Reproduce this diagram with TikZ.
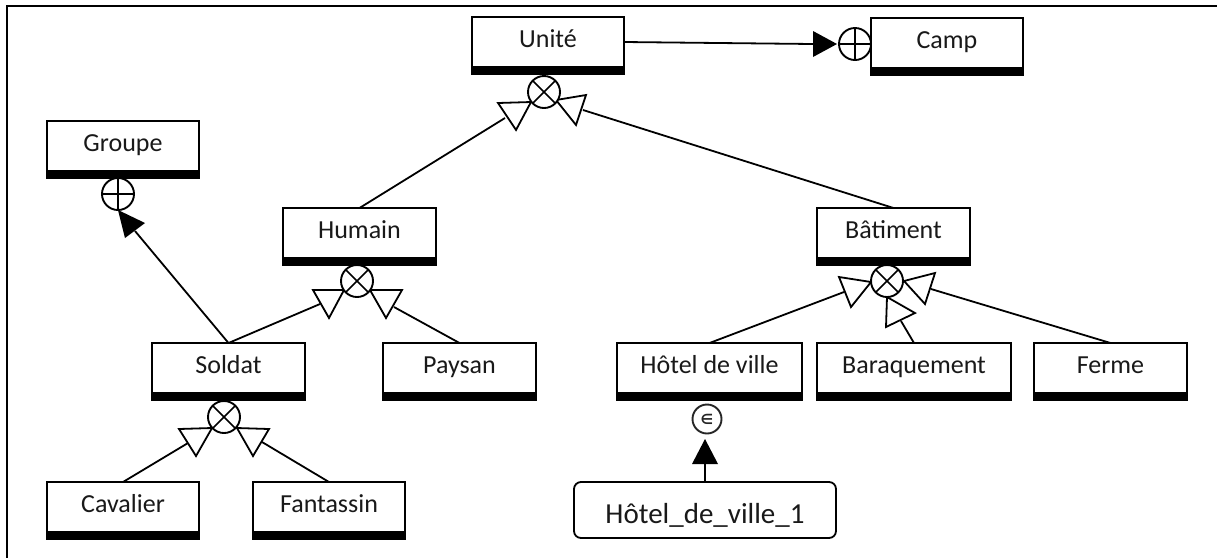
\documentclass[tikz,border=0pt]{standalone}
\usepackage{fontspec}
\setmainfont{Carlito}
\newfontfamily\symbfont{DejaVu Sans}
\usetikzlibrary{calc}
\tikzset{
  x=1pt,y=-1pt,
  entity/.style={draw=black,line width=2pt,fill=white,inner sep=0pt,outer sep=0pt,
    minimum height=50pt,text height=19pt,text depth=8pt,text=black!90,font=\fontsize{26}{30}\selectfont},
  instance/.style={draw=black,line width=1.8pt,fill=white,rounded corners=7pt,inner sep=0pt,outer sep=0pt,
    minimum width=262pt,minimum height=56pt,text height=30pt,text depth=4pt,text=black!90,font=\fontsize{29}{32}\selectfont},
  junction/.style={circle,draw=black,line width=1.9pt,fill=white,minimum size=32pt,inner sep=0pt,outer sep=0pt},
  xorj/.style={junction,path picture={
    \draw[line width=1.7pt] (path picture bounding box.north west) -- (path picture bounding box.south east);
    \draw[line width=1.7pt] (path picture bounding box.north east) -- (path picture bounding box.south west);}},
  plusj/.style={junction,path picture={
    \draw[line width=1.7pt] (path picture bounding box.north) -- (path picture bounding box.south);
    \draw[line width=1.7pt] (path picture bounding box.west) -- (path picture bounding box.east);}},
  elemj/.style={circle,draw=black!85,line width=1.9pt,fill=white,minimum size=29pt,inner sep=0pt,outer sep=0pt,
    text=black!85,font=\symbfont\bfseries\fontsize{14}{14}\selectfont},
  link/.style={draw=black,line width=1.8pt},
  opentri/.style={draw=black,line width=1.8pt,fill=white,line join=miter},
  solidtri/.style={fill=black,draw=none},
  frameline/.style={draw=black,line width=2pt},
}
\begin{document}
\begin{tikzpicture}
\useasboundingbox (0,0) rectangle (1217,558);
\fill[white] (0,0) rectangle (1217,558);
\draw[frameline] (1217,6) -- (7,6) -- (7,558);

% entity boxes
\node[entity,minimum width=152pt] (unite) at (548,42) {Unité};
\node[entity,minimum width=152pt] (camp) at (947,43) {Camp};
\node[entity,minimum width=152pt] (groupe) at (123,146) {Groupe};
\node[entity,minimum width=153pt] (humain) at (359.5,233) {Humain};
\node[entity,minimum width=153pt] (batiment) at (893.5,233) {Bâtiment};
\node[entity,minimum width=153pt] (soldat) at (228.5,368) {Soldat};
\node[entity,minimum width=153pt] (paysan) at (459.5,368) {Paysan};
\node[entity,minimum width=185pt] (hotel) at (709.5,368) {Hôtel de ville};
\node[entity,minimum width=194pt] (baraquement) at (914,368) {Baraquement};
\node[entity,minimum width=153pt] (ferme) at (1110.5,368) {Ferme};
\node[entity,minimum width=152pt] (cavalier) at (123,507) {Cavalier};
\node[entity,minimum width=152pt] (fantassin) at (329,507) {Fantassin};
\node[instance] (hotelun) at (705,510) {Hôtel\_de\_ville\_1};

\foreach \n in {unite,camp,groupe,humain,batiment,soldat,paysan,hotel,baraquement,ferme,cavalier,fantassin}
  \fill[black] ([xshift=-1pt]\n.south west) rectangle ([xshift=1pt,yshift=-8pt]\n.south east);

% connectors ending on the generalisation triangles
\coordinate (tuh) at (505,118);
\coordinate (tub) at (583,110);
\coordinate (ths) at (320,304);
\coordinate (thp) at (394,307);
\coordinate (tbh) at (844,292);
\coordinate (tbb) at (901,321);
\coordinate (tbf) at (931,289);
\coordinate (tsc) at (188,443);
\coordinate (tsf) at (262,442);
\draw[link] (humain.north) -- (tuh);
\draw[link] (batiment.north) -- (tub);
\draw[link] (soldat.north) -- (ths);
\draw[link] (paysan.north) -- (thp);
\draw[link] (hotel.north) -- (tbh);
\draw[link] (baraquement.north) -- (tbb);
\draw[link] (ferme.north) -- (tbf);
\draw[link] (cavalier.north) -- (tsc);
\draw[link] (fantassin.north) -- (tsf);

% open triangles
\draw[opentri] (498,103) -- (531,102) -- (516,130) -- cycle;
\draw[opentri] (556,100) -- (586,95) -- (576,125) -- cycle;
\draw[opentri] (313,290) -- (344,290) -- (329,318) -- cycle;
\draw[opentri] (370,290) -- (402,290) -- (386,318) -- cycle;
\draw[opentri] (839,277) -- (871,282) -- (851,307) -- cycle;
\draw[opentri] (904,281) -- (935,273) -- (925,304) -- cycle;
\draw[opentri] (887,297) -- (915,313) -- (886,327) -- cycle;
\draw[opentri] (179,429) -- (212,428) -- (196,456) -- cycle;
\draw[opentri] (237,428) -- (269,429) -- (253,456) -- cycle;

% junctions
\node[xorj] (ju) at (544,92) {};
\node[xorj] (jh) at (357,281) {};
\node[xorj] (jb) at (887,281) {};
\node[xorj] (js) at (224,417) {};
\node[plusj] (jg) at (118,194) {};
\node[plusj] (jc) at (855,44) {};
\node[elemj] (je) at (707,419) {∈};

% solid-head connectors
\coordinate (acamp) at (813,44);
\coordinate (agroupe) at (135,231);
\coordinate (ahotel) at (705,464);
\draw[link] (unite.east) -- (acamp);
\draw[link] (soldat.north) -- (agroupe);
\draw[link] (hotelun.north) -- (ahotel);
\fill[solidtri] (813,31) -- (837,44) -- (813,57) -- cycle;
\fill[solidtri] (118,210) -- (145,223) -- (125,238) -- cycle;
\fill[solidtri] (705,439) -- (718,464) -- (692,464) -- cycle;
\end{tikzpicture}
\end{document}
